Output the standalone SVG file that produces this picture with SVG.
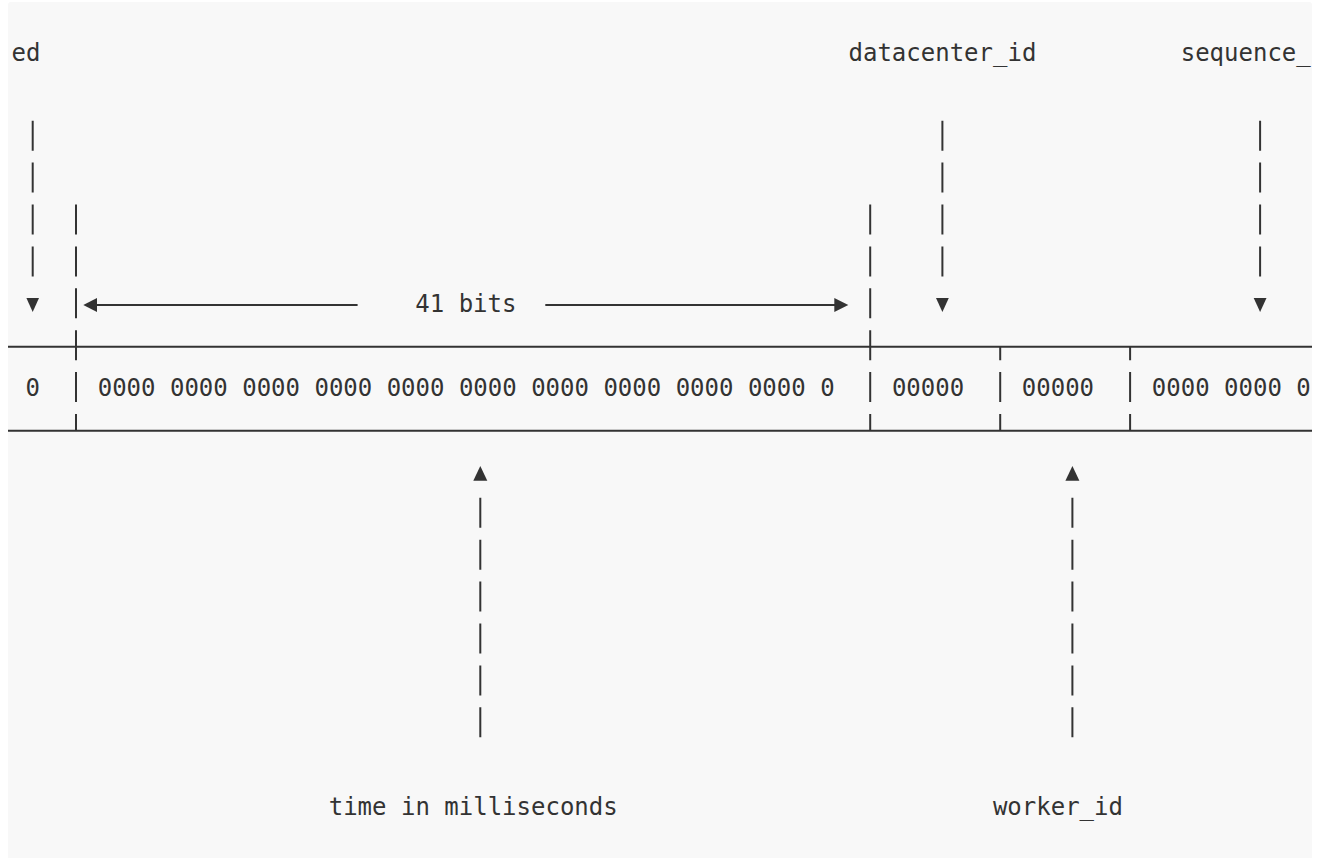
<svg xmlns="http://www.w3.org/2000/svg" width="1318" height="858" viewBox="0 0 1318 858">
  <defs>
    <clipPath id="card">
      <rect x="8" y="2" width="1304" height="860" rx="3"/>
    </clipPath>
    <style>
      .t { font-family: "DejaVu Sans Mono", "Liberation Mono", monospace; font-size: 24px; fill: #333; }
      .bar { stroke: #333; stroke-width: 2; fill: none; }
      .rule { stroke: #333; stroke-width: 2; fill: none; }
      .head { fill: #333; stroke: none; }
    </style>
  </defs>
  <rect width="1318" height="858" fill="#ffffff"/>
  <rect x="8" y="2" width="1304" height="860" rx="3" fill="#f8f8f8"/>
  <g clip-path="url(#card)">
    <g id="connectors">
      <line class="rule" x1="0" y1="346.7" x2="1318" y2="346.7"/>
      <line class="rule" x1="0" y1="430.7" x2="1318" y2="430.7"/>
      <path class="bar" d="M32.7 120.7V150.7M32.7 162.6V192.6M32.7 204.5V234.5M32.7 246.4V276.4"/>
      <polygon class="head" points="26.4,298 39,298 32.7,312"/>
      <path class="bar" d="M76 204.5V234.5M76 246.4V276.4M76 288.3V318.3M76 330.2V360.2M76 372.1V402.1M76 414V430.7"/>
      <path class="bar" d="M870.2 204.5V234.5M870.2 246.4V276.4M870.2 288.3V318.3M870.2 330.2V360.2M870.2 372.1V402.1M870.2 414V430.7"/>
      <line class="bar" x1="96" y1="305" x2="357.6" y2="305"/>
      <polygon class="head" points="83.3,305 97,298 97,312"/>
      <line class="bar" x1="545.3" y1="305" x2="835" y2="305"/>
      <polygon class="head" points="848.3,305 834.3,298 834.3,312"/>
      <path class="bar" d="M942.4 120.7V150.7M942.4 162.6V192.6M942.4 204.5V234.5M942.4 246.4V276.4"/>
      <polygon class="head" points="936,298 948.8,298 942.4,312"/>
      <path class="bar" d="M1260.1 120.7V150.7M1260.1 162.6V192.6M1260.1 204.5V234.5M1260.1 246.4V276.4"/>
      <polygon class="head" points="1253.7,298 1266.5,298 1260.1,312"/>
      <path class="bar" d="M1000.2 346.7V360.2M1000.2 372.1V402.1M1000.2 414V430.7"/>
      <path class="bar" d="M1130.1 346.7V360.2M1130.1 372.1V402.1M1130.1 414V430.7"/>
      <polygon class="head" points="480.3,466 473.3,480.7 487.3,480.7"/>
      <path class="bar" d="M480.3 497.8V527.8M480.3 539.7V569.7M480.3 581.6V611.6M480.3 623.5V653.5M480.3 665.4V695.4M480.3 707.3V737.3"/>
      <polygon class="head" points="1072.4,466 1065.4,480.7 1079.4,480.7"/>
      <path class="bar" d="M1072.4 497.8V527.8M1072.4 539.7V569.7M1072.4 581.6V611.6M1072.4 623.5V653.5M1072.4 665.4V695.4M1072.4 707.3V737.3"/>
    </g>
    <g id="label-unused"><text class="t" x="11.5" y="61">ed</text></g>
    <g id="label-datacenter"><text class="t" x="848.5" y="61">datacenter_id</text></g>
    <g id="label-sequence"><text class="t" x="1180.7" y="61">sequence_</text></g>
    <g id="label-41bits"><text class="t" x="415.3" y="312.4">41 bits</text></g>
    <g id="field-sign"><text class="t" x="25.5" y="396.2">0</text></g>
    <g id="field-time"><text class="t" x="97.7" y="396.2">0000 0000 0000 0000 0000 0000 0000 0000 0000 0000 0</text></g>
    <g id="field-datacenter"><text class="t" x="891.9" y="396.2">00000</text></g>
    <g id="field-worker"><text class="t" x="1021.8" y="396.2">00000</text></g>
    <g id="field-sequence"><text class="t" x="1151.8" y="396.2">0000 0000 0</text></g>
    <g id="label-time"><text class="t" x="328.7" y="815.2">time in milliseconds</text></g>
    <g id="label-worker"><text class="t" x="992.9" y="815.2">worker_id</text></g>
  </g>
</svg>
